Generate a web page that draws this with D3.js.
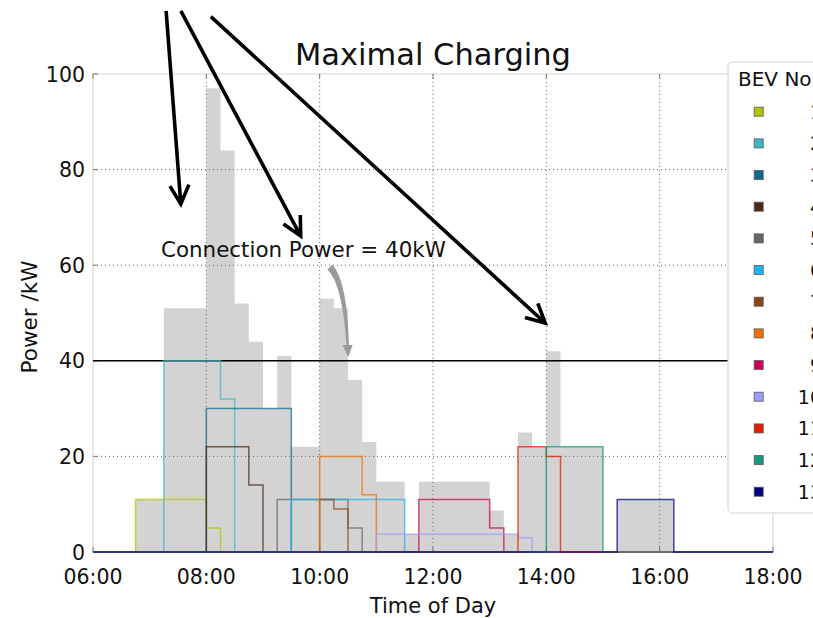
<!DOCTYPE html>
<meta charset="utf-8">
<style>
body{ margin:0; background:#fff; }
text{ font-family: "DejaVu Sans", sans-serif; fill:#111; }
</style>
<body>
<div id="chart"></div>
<script src="https://d3js.org/d3.v7.min.js"></script>
<script>
// Maximal Charging: per-BEV charging profiles (15 min steps) and the summed load in gray

var xTicks = ["06:00","08:00","10:00","12:00","14:00","16:00","18:00"];
var yTicks = [0, 20, 40, 60, 80, 100];
var bevNames = ["1","2","3","4","5","6","7","8","9","10","11","12","13"];
var bevColors = ["#b5c400","#3fb6c6","#0b6a8c","#4a2a12","#666666","#1fb3f0","#8b4513",
                 "#f07000","#cc0055","#9d9dff","#e01e00","#169a7c","#000088"];
// [start, end, kW] for every BEV
var bevSegments = [
	[["06:45","08:00",11],["08:00","08:15",5]],
	[["07:15","08:15",40],["08:15","08:30",32]],
	[["08:00","09:30",30]],
	[["08:00","08:45",22],["08:45","09:00",14]],
	[["09:15","10:30",11],["10:30","10:45",5]],
	[["09:30","11:30",11]],
	[["10:00","10:15",11],["10:15","10:30",9]],
	[["10:00","10:45",20],["10:45","11:00",12]],
	[["11:45","13:00",11],["13:00","13:15",5]],
	[["11:00","13:30",3.7],["13:30","13:45",3]],
	[["13:30","14:00",22],["14:00","14:15",20]],
	[["14:00","15:00",22]],
	[["15:15","16:15",11]]
];
var connectionPower = 40;
var connectionText = "Connection Power = 40kW";
// annotation arrows: [time of tail, kW of tail, time of tip, kW of tip]
var blackArrows = [
	[7.29, 113.2, 7.55, 72.8],
	[7.55, 113.2, 9.665, 66.1],
	[8.08, 112.0, 13.98, 47.9]
];

var W = 813, H = 618;
var x = d3.scaleLinear().domain([6, 18]).range([93, 773]);
var y = d3.scaleLinear().domain([0, 100]).range([552, 74]);

function hours(s){
	var p = s.split(":");
	return +p[0] + (+p[1])/60;
}

var slots = d3.range(6, 18, 0.25);
var profiles = bevSegments.map(function(segs){
	return slots.map(function(t){
		var v = 0;
		segs.forEach(function(s){
			if(t >= hours(s[0]) && t < hours(s[1])) v = s[2];
		});
		return v;
	});
});
var total = slots.map(function(t, i){
	return d3.sum(profiles, function(p){ return p[i]; });
});

var svg = d3.select("#chart").append("svg").attr("width", W).attr("height", H);

// summed load as a step area
var totalPts = slots.map(function(t, i){ return [t, total[i]]; });
totalPts.push([18, total[total.length-1]]);
svg.append("path")
	.datum(totalPts)
	.attr("d", d3.area()
		.x(function(d){ return x(d[0]); })
		.y0(y(0))
		.y1(function(d){ return y(d[1]); })
		.curve(d3.curveStepAfter))
	.attr("fill", "#d3d3d3");

// spines
svg.append("rect").attr("x", x(6)).attr("y", y(100)).attr("width", x(18)-x(6)).attr("height", y(0)-y(100))
	.attr("fill", "none").attr("stroke", "#dcdcdc").attr("stroke-width", 1.2);

// grid
var grid = svg.append("g").attr("stroke", "#666").attr("stroke-width", 1).attr("stroke-dasharray", "1,3");
grid.selectAll(".vg").data(xTicks.slice(1, -1)).enter().append("line")
	.attr("x1", function(d){ return x(hours(d)); }).attr("x2", function(d){ return x(hours(d)); })
	.attr("y1", y(100)).attr("y2", y(0));
grid.selectAll(".hg").data(yTicks.slice(1, -1)).enter().append("line")
	.attr("x1", x(6)).attr("x2", x(18))
	.attr("y1", function(d){ return y(d); }).attr("y2", function(d){ return y(d); });

// ticks (inside)
var ticks = svg.append("g").attr("stroke", "#777").attr("stroke-width", 1);
xTicks.forEach(function(d){
	var px = x(hours(d));
	ticks.append("line").attr("x1", px).attr("x2", px).attr("y1", y(0)).attr("y2", y(0)-5);
	ticks.append("line").attr("x1", px).attr("x2", px).attr("y1", y(100)).attr("y2", y(100)+5);
});
yTicks.forEach(function(d){
	ticks.append("line").attr("x1", x(6)).attr("x2", x(6)+5).attr("y1", y(d)).attr("y2", y(d));
	ticks.append("line").attr("x1", x(18)).attr("x2", x(18)-5).attr("y1", y(d)).attr("y2", y(d));
});

// connection power
svg.append("line").attr("x1", x(6)).attr("x2", x(18))
	.attr("y1", y(connectionPower)).attr("y2", y(connectionPower))
	.attr("stroke", "#000").attr("stroke-width", 1.5);

// BEV profiles
var line = d3.line()
	.x(function(d){ return x(d[0]); })
	.y(function(d){ return y(d[1]); })
	.curve(d3.curveStepAfter);
svg.append("g").selectAll("path")
	.data(profiles)
	.enter().append("path")
	.attr("d", function(p){
		var pts = slots.map(function(t, i){ return [t, p[i]]; });
		pts.push([18, p[p.length-1]]);
		return line(pts);
	})
	.attr("fill", "none")
	.attr("stroke", function(d, i){ return bevColors[i]; })
	.attr("stroke-width", 1.5)
	.attr("stroke-opacity", 0.72);

// tick labels
svg.append("g").selectAll("text").data(xTicks).enter().append("text")
	.attr("x", function(d){ return x(hours(d)); }).attr("y", 584)
	.attr("text-anchor", "middle").style("font-size", "20.5px").text(function(d){ return d; });
svg.append("g").selectAll("text").data(yTicks).enter().append("text")
	.attr("x", 85).attr("y", function(d){ return y(d) + 7.6; })
	.attr("text-anchor", "end").style("font-size", "20.5px").text(function(d){ return d; });

// axis labels, title
svg.append("text").attr("x", 433).attr("y", 613).attr("text-anchor", "middle")
	.style("font-size", "21px").text("Time of Day");
svg.append("text").attr("transform", "translate(37,317) rotate(-90)").attr("text-anchor", "middle")
	.style("font-size", "21.5px").text("Power /kW");
svg.append("text").attr("x", 433).attr("y", 65).attr("text-anchor", "middle")
	.style("font-size", "30.5px").text("Maximal Charging");

// annotation text + curved gray arrow
svg.append("text").attr("x", x(7.2)).attr("y", y(61.8))
	.style("font-size", "21.4px").text(connectionText);

(function(){
	var S = [x(10.18), y(59.6)], C = [x(10.445), y(56.3)], B = [x(10.493), y(43.3)], E = [x(10.505), y(40.8)];
	var left = [], right = [], n = 24;
	for(var k = 0; k <= n; k++){
		var t = k / n;
		var px = (1-t)*(1-t)*S[0] + 2*(1-t)*t*C[0] + t*t*B[0];
		var py = (1-t)*(1-t)*S[1] + 2*(1-t)*t*C[1] + t*t*B[1];
		var dx = 2*(1-t)*(C[0]-S[0]) + 2*t*(B[0]-C[0]);
		var dy = 2*(1-t)*(C[1]-S[1]) + 2*t*(B[1]-C[1]);
		var len = Math.sqrt(dx*dx + dy*dy);
		var nx = -dy/len, ny = dx/len;
		var w = (7 - 4.5*t) / 2;
		left.push([px + nx*w, py + ny*w]);
		right.push([px - nx*w, py - ny*w]);
	}
	var body = left.concat(right.reverse());
	svg.append("path").attr("d", "M" + body.join("L") + "Z").attr("fill", "#9a9a9a");
	svg.append("path").attr("d", "M" + [B[0]-5, B[1]] + "L" + E + "L" + [B[0]+5, B[1]] + "Z").attr("fill", "#9a9a9a");
})();

// black arrows
blackArrows.forEach(function(a){
	var x0 = x(a[0]), y0 = y(a[1]), x1 = x(a[2]), y1 = y(a[3]);
	var ang = Math.atan2(y0 - y1, x0 - x1), hl = 21, ha = 0.47;
	var p1 = [x1 + hl*Math.cos(ang + ha), y1 + hl*Math.sin(ang + ha)];
	var p2 = [x1 + hl*Math.cos(ang - ha), y1 + hl*Math.sin(ang - ha)];
	svg.append("path")
		.attr("d", "M" + [x0, y0] + "L" + [x1, y1] + "M" + p1 + "L" + [x1, y1] + "L" + p2)
		.attr("fill", "none").attr("stroke", "#000").attr("stroke-width", 3.6)
		.attr("stroke-linejoin", "miter");
});

// legend
var lg = svg.append("g");
lg.append("rect").attr("x", 728).attr("y", 62).attr("width", 120).attr("height", 451).attr("rx", 4)
	.attr("fill", "#fff").attr("stroke", "#d8d8d8").attr("stroke-width", 1.2);
lg.append("text").attr("x", 738).attr("y", 86).style("font-size", "20px").text("BEV No.");
var item = lg.selectAll(".item").data(bevNames).enter().append("g")
	.attr("transform", function(d, i){ return "translate(0," + (111.7 + i*31.67) + ")"; });
item.append("rect").attr("x", 754.2).attr("y", -4.5).attr("width", 9).attr("height", 9)
	.attr("fill", function(d, i){ return bevColors[i]; })
	.attr("stroke", "#555").attr("stroke-opacity", 0.8).attr("stroke-width", 1);
item.append("text").attr("x", 822).attr("y", 6.8).attr("text-anchor", "end")
	.style("font-size", "19px").text(function(d){ return d; });
</script>
</body>
